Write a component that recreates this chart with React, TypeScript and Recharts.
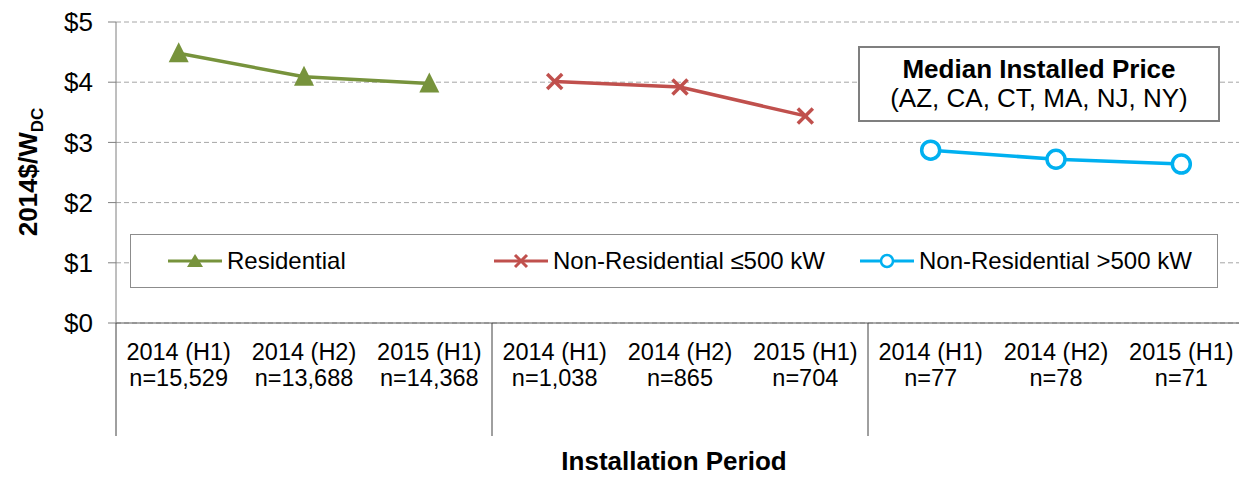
import React from 'react';
import { LineChart, Line, XAxis, YAxis, CartesianGrid } from 'recharts';

const periods = ['2014 (H1)', '2014 (H2)', '2015 (H1)', '2014 (H1)', '2014 (H2)', '2015 (H1)', '2014 (H1)', '2014 (H2)', '2015 (H1)'];
const sampleSizes = ['n=15,529', 'n=13,688', 'n=14,368', 'n=1,038', 'n=865', 'n=704', 'n=77', 'n=78', 'n=71'];
const residential = [4.48, 4.09, 3.98];
const nonResSmall = [4.01, 3.92, 3.44];
const nonResLarge = [2.87, 2.72, 2.64];
const priceTicks = [0, 1, 2, 3, 4, 5];
const seriesNames = ['Residential', 'Non-Residential \u2264500 kW', 'Non-Residential >500 kW'];

const data = periods.map((p, i) => ({
  key: `p${i}`,
  period: p,
  residential: i < 3 ? residential[i] : null,
  small: i >= 3 && i < 6 ? nonResSmall[i - 3] : null,
  large: i >= 6 ? nonResLarge[i - 6] : null,
}));

const FONT = '"Liberation Sans", Arial, sans-serif';
const GREEN = '#77933C';
const RED = '#C0504D';
const CYAN = '#00B0F0';
const PAGE_W = 1239;
const W = 1244; // plot runs a little past the right edge of the picture
const H = 477;
const LEFT = 116;
const TOP = 22;
const XAXIS_H = 154;
const BAND = (W - LEFT) / periods.length;

const PeriodTick = (props: any) => {
  const { x, y, payload } = props;
  const i = payload.index;
  return (
    <g>
      {i % 3 === 0 && (
        <line x1={x - BAND / 2} x2={x - BAND / 2} y1={y} y2={y + 113} stroke="#404040" strokeWidth={1} />
      )}
      <text x={x} y={y + 37} textAnchor="middle" fontSize={23.5} fill="#000" fontFamily={FONT}>
        {periods[i]}
      </text>
      <text x={x} y={y + 63} textAnchor="middle" fontSize={23.5} fill="#000" fontFamily={FONT}>
        {sampleSizes[i]}
      </text>
    </g>
  );
};

const TriangleDot = (props: any) => {
  const { cx, cy, index } = props;
  if (cx == null || cy == null) return <g key={`t${index}`} />;
  return <polygon key={`t${index}`} points={`${cx},${cy - 11} ${cx - 10},${cy + 9} ${cx + 10},${cy + 9}`} fill={GREEN} />;
};

const CrossDot = (props: any) => {
  const { cx, cy, index } = props;
  if (cx == null || cy == null) return <g key={`x${index}`} />;
  return (
    <g key={`x${index}`} stroke={RED} strokeWidth={3.5}>
      <line x1={cx - 7.5} y1={cy - 7.5} x2={cx + 7.5} y2={cy + 7.5} />
      <line x1={cx - 7.5} y1={cy + 7.5} x2={cx + 7.5} y2={cy - 7.5} />
    </g>
  );
};

const CircleDot = (props: any) => {
  const { cx, cy, index } = props;
  if (cx == null || cy == null) return <g key={`c${index}`} />;
  return <circle key={`c${index}`} cx={cx} cy={cy} r={9} fill="#fff" stroke={CYAN} strokeWidth={3.5} />;
};

const LegendIcon = ({ kind }: { kind: number }) => (
  <svg width={54} height={20} style={{ marginRight: 5 }}>
    <line x1={0} x2={54} y1={10} y2={10} stroke={[GREEN, RED, CYAN][kind]} strokeWidth={3} />
    {kind === 0 && <polygon points="27,3 19,16 35,16" fill={GREEN} />}
    {kind === 1 && (
      <g stroke={RED} strokeWidth={3}>
        <line x1={21} y1={4} x2={33} y2={16} />
        <line x1={21} y1={16} x2={33} y2={4} />
      </g>
    )}
    {kind === 2 && <circle cx={27} cy={10} r={6} fill="#fff" stroke={CYAN} strokeWidth={2.5} />}
  </svg>
);

const legendLefts = [37, 363, 729];

export default function App() {
  return (
    <div style={{ position: 'absolute', left: 0, top: 0, width: PAGE_W, height: H, overflow: 'hidden', fontFamily: FONT }}>
      <LineChart width={W} height={H} data={data} margin={{ top: TOP, right: 0, left: 0, bottom: 0 }}>
        <CartesianGrid vertical={false} stroke="#A6A6A6" strokeDasharray="5 3" />
        <XAxis
          dataKey="key"
          height={XAXIS_H}
          padding={{ left: BAND / 2, right: BAND / 2 }}
          tickSize={0}
          tickMargin={0}
          tickLine={false}
          axisLine={{ stroke: '#595959' }}
          tick={<PeriodTick />}
          interval={0}
          label={{
            content: () => (
              <text x={674} y={470} textAnchor="middle" fontSize={26} fontWeight="bold" fill="#000" fontFamily={FONT}>
                Installation Period
              </text>
            ),
          }}
        />
        <YAxis
          width={LEFT}
          domain={[0, 5]}
          ticks={priceTicks}
          tickFormatter={(v: number) => `$${v}`}
          tickSize={8}
          tickMargin={15}
          axisLine={{ stroke: '#7F7F7F' }}
          tickLine={{ stroke: '#7F7F7F' }}
          tick={{ fontSize: 26, fill: '#000', fontFamily: FONT }}
          label={{
            content: () => (
              <text transform="translate(37,172) rotate(-90)" textAnchor="middle" fontSize={26} fontWeight="bold" fill="#000" fontFamily={FONT}>
                2014$/W
                <tspan fontSize={17} dy={6}>DC</tspan>
              </text>
            ),
          }}
        />
        <Line dataKey="residential" name={seriesNames[0]} stroke={GREEN} strokeWidth={3.5} dot={TriangleDot} isAnimationActive={false} />
        <Line dataKey="small" name={seriesNames[1]} stroke={RED} strokeWidth={3.5} dot={CrossDot} isAnimationActive={false} />
        <Line dataKey="large" name={seriesNames[2]} stroke={CYAN} strokeWidth={3.5} dot={CircleDot} isAnimationActive={false} />
      </LineChart>

      <div
        style={{
          position: 'absolute',
          left: 130,
          top: 234,
          width: 1088,
          height: 54,
          boxSizing: 'border-box',
          border: '1px solid #8C8C8C',
          background: '#fff',
        }}
      >
        {seriesNames.map((name, i) => (
          <div
            key={name}
            style={{
              position: 'absolute',
              left: legendLefts[i],
              top: 0,
              height: 52,
              display: 'flex',
              alignItems: 'center',
              fontSize: 24,
              color: '#000',
              whiteSpace: 'nowrap',
            }}
          >
            <LegendIcon kind={i} />
            {name}
          </div>
        ))}
      </div>

      <div
        style={{
          position: 'absolute',
          left: 858,
          top: 46,
          width: 362,
          height: 76,
          boxSizing: 'border-box',
          border: '2px solid #7F7F7F',
          background: '#fff',
          textAlign: 'center',
          fontSize: 26,
          lineHeight: '29px',
          paddingTop: 7,
          color: '#000',
        }}
      >
        <div style={{ fontWeight: 'bold' }}>Median Installed Price</div>
        <div>(AZ, CA, CT, MA, NJ, NY)</div>
      </div>
    </div>
  );
}
